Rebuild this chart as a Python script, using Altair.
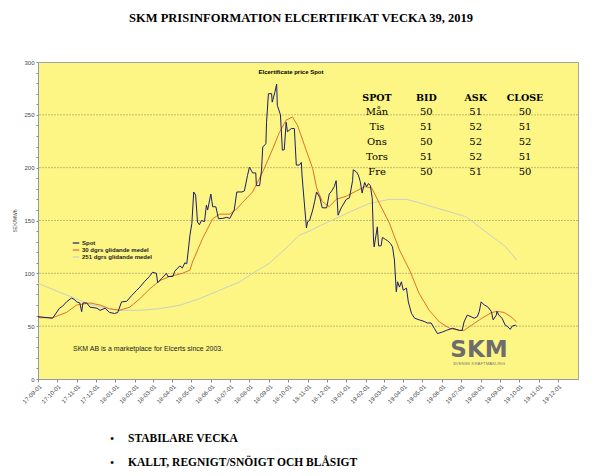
import altair as alt
import pandas as pd

TITLE = "SKM PRISINFORMATION ELCERTIFIKAT VECKA 39, 2019"
CHART_TITLE = "Elcertificate price Spot"
Y_TITLE = "SEK/MWh"
SERIES = ["Spot", "30 dgrs glidande medel", "251 dgrs glidande medel"]
COLORS = ["#1c1c6e", "#e2702a", "#c9d0c4"]
NOTE = "SKM  AB is a marketplace for Elcerts since 2003."
LOGO = "SKM"
LOGO_SUB = "SVENSK KRAFTMÄKLING"
BULLETS = ["STABILARE VECKA", "KALLT, REGNIGT/SNÖIGT OCH BLÅSIGT"]

spot_dates = ["2017-09-01","2017-09-24","2017-10-05","2017-10-10","2017-10-16","2017-10-24","2017-10-29",
    "2017-11-01","2017-11-06","2017-11-09","2017-11-11","2017-11-17","2017-11-22","2017-12-03","2017-12-08",
    "2017-12-16","2017-12-23","2017-12-31","2018-01-05","2018-01-11","2018-01-19","2018-01-27","2018-02-04",
    "2018-02-09","2018-02-16","2018-02-24","2018-03-01","2018-03-07","2018-03-09","2018-03-15","2018-03-23",
    "2018-03-25","2018-04-02","2018-04-05","2018-04-13","2018-04-17","2018-04-21","2018-04-24","2018-04-27",
    "2018-04-29","2018-05-02","2018-05-05","2018-05-08","2018-05-11","2018-05-14","2018-05-17","2018-05-22",
    "2018-05-25","2018-05-27","2018-06-01","2018-06-04","2018-06-09","2018-06-13","2018-06-20","2018-06-26",
    "2018-07-01","2018-07-08","2018-07-12","2018-07-20","2018-07-24","2018-07-29","2018-08-01","2018-08-06",
    "2018-08-11","2018-08-12","2018-08-17","2018-08-20","2018-08-22","2018-08-27","2018-08-28","2018-08-31",
    "2018-09-05","2018-09-06","2018-09-10","2018-09-13","2018-09-14","2018-09-19","2018-09-22","2018-09-25",
    "2018-09-28","2018-09-30","2018-10-06","2018-10-11","2018-10-14","2018-10-19","2018-10-22","2018-10-23",
    "2018-10-30","2018-11-01","2018-11-04","2018-11-09","2018-11-12","2018-11-15","2018-11-20","2018-11-24",
    "2018-12-01","2018-12-05","2018-12-09","2018-12-13","2018-12-16","2018-12-19","2018-12-24","2019-01-01",
    "2019-01-06","2019-01-11","2019-01-12","2019-01-17","2019-01-20","2019-01-23","2019-01-26","2019-01-30",
    "2019-02-02","2019-02-05","2019-02-08","2019-02-11","2019-02-13","2019-02-14","2019-02-19","2019-02-21",
    "2019-02-25","2019-02-27","2019-03-04","2019-03-07","2019-03-12","2019-03-15","2019-03-18","2019-03-21",
    "2019-03-23","2019-03-26","2019-03-29","2019-04-01","2019-04-06","2019-04-09","2019-04-14","2019-04-19",
    "2019-04-26","2019-05-04","2019-05-09","2019-05-15","2019-05-20","2019-05-25","2019-06-02","2019-06-08",
    "2019-06-18","2019-06-29","2019-07-03","2019-07-06","2019-07-11","2019-07-17","2019-07-22","2019-07-27",
    "2019-07-30","2019-08-02","2019-08-07","2019-08-12","2019-08-18","2019-08-21","2019-08-26","2019-08-27",
    "2019-08-30","2019-09-04","2019-09-09","2019-09-12","2019-09-17","2019-09-20","2019-09-25","2019-09-27"]
spot_values = [59,57.5,67,69,73,76.6,75,
    73,72,63.7,72,72,68,67,65,
    67,63,62,63,73,73.5,79,84,
    87,92,97,101,100,91,95,100,
    97,97,102,107,105,110,109,125,
    136,147,177,174,148.5,146,150,149,
    164.5,160,175,163,163,151.7,152,153,
    152,160,177,177,178,192.7,200.6,195,
    195,183,183,197,219.5,222.7,243,270,
    270,262,271,279,259,250,216.6,217,
    243,234,237,237,202.5,202.5,205,193,
    143,149,150,160,168,177,172,162,
    162,175,178,182,187.7,155,162,170,
    171.5,188,198,196,193,187,176,186,
    182,185,183,171,131.5,125,144,126,
    126,134,132,131,128,125,112.6,82.6,
    92,87,92,84,86,73,62,57.5,
    56,54.5,53,53,48,43,44.5,46,
    48,46,46,54,60.5,59,57.5,59,
    63.7,73,70,68.5,64,56,60.5,64,
    60.5,57.5,51,50,47,50,51,50]

ma30_dates = ["2017-09-01","2017-09-24","2017-10-16","2017-11-01","2017-11-22","2017-12-08","2017-12-23",
    "2018-01-08","2018-01-24","2018-02-09","2018-02-24","2018-03-12","2018-03-28","2018-04-17","2018-04-29",
    "2018-05-03","2018-05-19","2018-06-04","2018-06-15","2018-07-01","2018-07-12","2018-07-21","2018-08-06",
    "2018-08-22","2018-09-06","2018-09-17","2018-09-28","2018-10-08","2018-10-16","2018-10-27","2018-11-09",
    "2018-11-15","2018-11-24","2018-12-05","2018-12-16","2019-01-01","2019-01-17","2019-01-30","2019-02-10",
    "2019-02-22","2019-03-10","2019-03-26","2019-04-11","2019-04-26","2019-05-12","2019-05-28","2019-06-13",
    "2019-06-29","2019-07-06","2019-07-18","2019-08-03","2019-08-18","2019-08-27","2019-09-07","2019-09-18",
    "2019-09-27"]
ma30_values = [58,58,63,70,72,70,66.5,
    65,68,76,85,93,97,100,103,
    110.7,133,151.7,156,156,161,167,177,
    196,216.7,233,245,248,240,221,199,
    181,168,163,170,173,178,182,181,
    166.5,147.6,122,103,81,65,54,48,
    46,46,51,57.4,62.8,64,63,59,
    54]

ma251_dates = ["2017-09-01","2017-10-16","2017-11-22","2017-12-23","2018-01-08","2018-02-09","2018-03-12",
    "2018-04-13","2018-05-14","2018-06-15","2018-07-17","2018-08-06","2018-09-02","2018-09-28","2018-10-19",
    "2018-11-04","2018-11-20","2018-12-05","2019-01-06","2019-02-06","2019-03-10","2019-04-06","2019-05-01",
    "2019-05-17","2019-07-09","2019-08-10","2019-09-10","2019-09-27"]
ma251_values = [90.5,79.5,70.6,66.5,65,65,66.6,
    69.8,76,84,92,100,109.7,124,136,
    140,145,149,158,166,170,170,166,
    163,153.6,139,125,112.6]

table_cols = ["SPOT", "BID", "ASK", "CLOSE"]
table_days = ["Mån", "Tis", "Ons", "Tors", "Fre"]
bid = [50, 51, 50, 51, 50]
ask = [51, 52, 52, 52, 51]
close = [50, 51, 52, 51, 50]

gridlines = [50, 100, 150, 200, 250]
y_minor_ticks = list(range(0, 301, 10))
month_ticks = pd.date_range("2017-09-01", "2019-12-01", freq="MS")

BG = "#fdf684"
GREY = "#444444"

df = pd.concat([
    pd.DataFrame({"date": spot_dates, "value": spot_values, "series": SERIES[0]}),
    pd.DataFrame({"date": ma30_dates, "value": ma30_values, "series": SERIES[1]}),
    pd.DataFrame({"date": ma251_dates, "value": ma251_values, "series": SERIES[2]}),
], ignore_index=True)

x_enc = alt.X(
    "date:T",
    scale=alt.Scale(type="utc",
                    domain=[alt.DateTime(year=2017, month=9, date=1, utc=True),
                            alt.DateTime(year=2020, month=1, date=2, utc=True)]),
    axis=alt.Axis(
        values=[alt.DateTime(year=int(d.year), month=int(d.month), date=1, utc=True) for d in month_ticks],
        format="%y-%m-%d", labelAngle=-45, labelFontSize=6, labelColor=GREY,
        labelFont="Liberation Sans", tickSize=3, tickColor="#888", domainColor="#999",
        grid=False, labelPadding=1, labelOverlap=False),
    title=None,
)
y_axis = alt.Axis(values=y_minor_ticks,
                  labelExpr="datum.value % 50 == 0 ? datum.label : ''",
                  labelOverlap=False,
                  labelFontSize=6, labelColor=GREY, labelFont="Liberation Sans",
                  tickSize=2, tickColor="#888", domainColor="#999", grid=False,
                  title=Y_TITLE, titleFontSize=5, titleFontWeight="normal",
                  titleColor=GREY, titleFont="Liberation Sans", titlePadding=6)
y_scale = alt.Scale(domain=[0, 300], nice=False, zero=True)
y_enc = alt.Y("value:Q", scale=y_scale, axis=y_axis)
color_enc = alt.Color(
    "series:N",
    scale=alt.Scale(domain=SERIES, range=COLORS),
    legend=alt.Legend(orient="none", legendX=34, legendY=177, title=None,
                      symbolType="stroke", symbolSize=42, symbolStrokeWidth=1.2,
                      labelFontSize=6, labelFontWeight="bold", labelFont="Liberation Sans",
                      labelColor="#222", rowPadding=0, labelOffset=2, padding=0),
)

base = alt.Chart(df)
grid = alt.Chart(pd.DataFrame({"value": gridlines})).mark_rule(
    color="#b3ab6c", strokeWidth=0.8, strokeDash=[2, 1]).encode(y=y_enc)
line251 = base.transform_filter(alt.datum.series == SERIES[2]).mark_line(strokeWidth=1).encode(
    x=x_enc, y=y_enc, color=color_enc)
line30 = base.transform_filter(alt.datum.series == SERIES[1]).mark_line(strokeWidth=1).encode(
    x=x_enc, y=y_enc, color=color_enc)
linespot = base.transform_filter(alt.datum.series == SERIES[0]).mark_line(strokeWidth=1).encode(
    x=x_enc, y=y_enc, color=color_enc)


def label(text, x, y, **kw):
    return alt.Chart(pd.DataFrame({"t": [text]})).mark_text(**kw).encode(
        x=alt.value(x), y=alt.value(y), text="t:N")


annotations = [
    label(TITLE, 263, -44, font="Liberation Serif", fontSize=12.5, fontWeight="bold",
          color="#000", align="center", baseline="middle"),
    label(CHART_TITLE, 253, 10, font="Liberation Sans", fontSize=6, fontWeight="bold",
          color="#000", align="center", baseline="middle"),
    label(NOTE, 35, 287, font="Liberation Sans", fontSize=7, color="#222",
          align="left", baseline="middle"),
    label(LOGO, 441, 295, font="DejaVu Sans", fontSize=23, fontWeight="bold",
          color="#6d6d6d", align="center", baseline="alphabetic"),
    label(LOGO_SUB, 441, 302, font="Liberation Sans", fontSize=4.3,
          color="#7a7a7a", align="center", baseline="middle"),
]
for i, b in enumerate(BULLETS):
    yy = 377 + i * 24
    annotations.append(label("•", 74, yy, font="Liberation Serif", fontSize=12,
                             color="#000", align="center", baseline="middle"))
    annotations.append(label(b, 90, yy, font="Liberation Serif", fontSize=11.5,
                             fontWeight="bold", color="#000", align="left", baseline="middle"))

main = alt.layer(grid, line251, line30, linespot, *annotations)

cells = []
for i, d in enumerate(table_days):
    cells.append({"col": "SPOT", "row": d, "txt": d})
    cells.append({"col": "BID", "row": d, "txt": str(bid[i])})
    cells.append({"col": "ASK", "row": d, "txt": str(ask[i])})
    cells.append({"col": "CLOSE", "row": d, "txt": str(close[i])})
cells_df = pd.DataFrame(cells)
tx = alt.X("col:N", scale=alt.Scale(domain=table_cols, range=[339, 487], padding=0), axis=None)
body = alt.Chart(cells_df).mark_text(font="DejaVu Serif", fontSize=10, color="#000",
                                     baseline="middle").encode(
    x=tx,
    y=alt.Y("row:N", scale=alt.Scale(domain=table_days, range=[50, 110], padding=0), axis=None),
    text="txt:N")
header = alt.Chart(pd.DataFrame({"col": table_cols})).mark_text(
    font="DejaVu Serif", fontSize=9.5, fontWeight="bold", color="#000", baseline="middle").encode(
    x=tx, y=alt.value(36), text="col:N")
table = alt.layer(header, body)

chart = alt.layer(main, table).resolve_scale(x="independent", y="independent").properties(
    width=540, height=317,
    padding={"left": 38, "top": 62, "right": 25, "bottom": 97},
    autosize=alt.AutoSizeParams(type="none"),
    background="white",
).configure_view(fill=BG, stroke="#a5a5a5", strokeWidth=1)

chart.save("out.html", embed_options={"renderer": "svg", "actions": False})
